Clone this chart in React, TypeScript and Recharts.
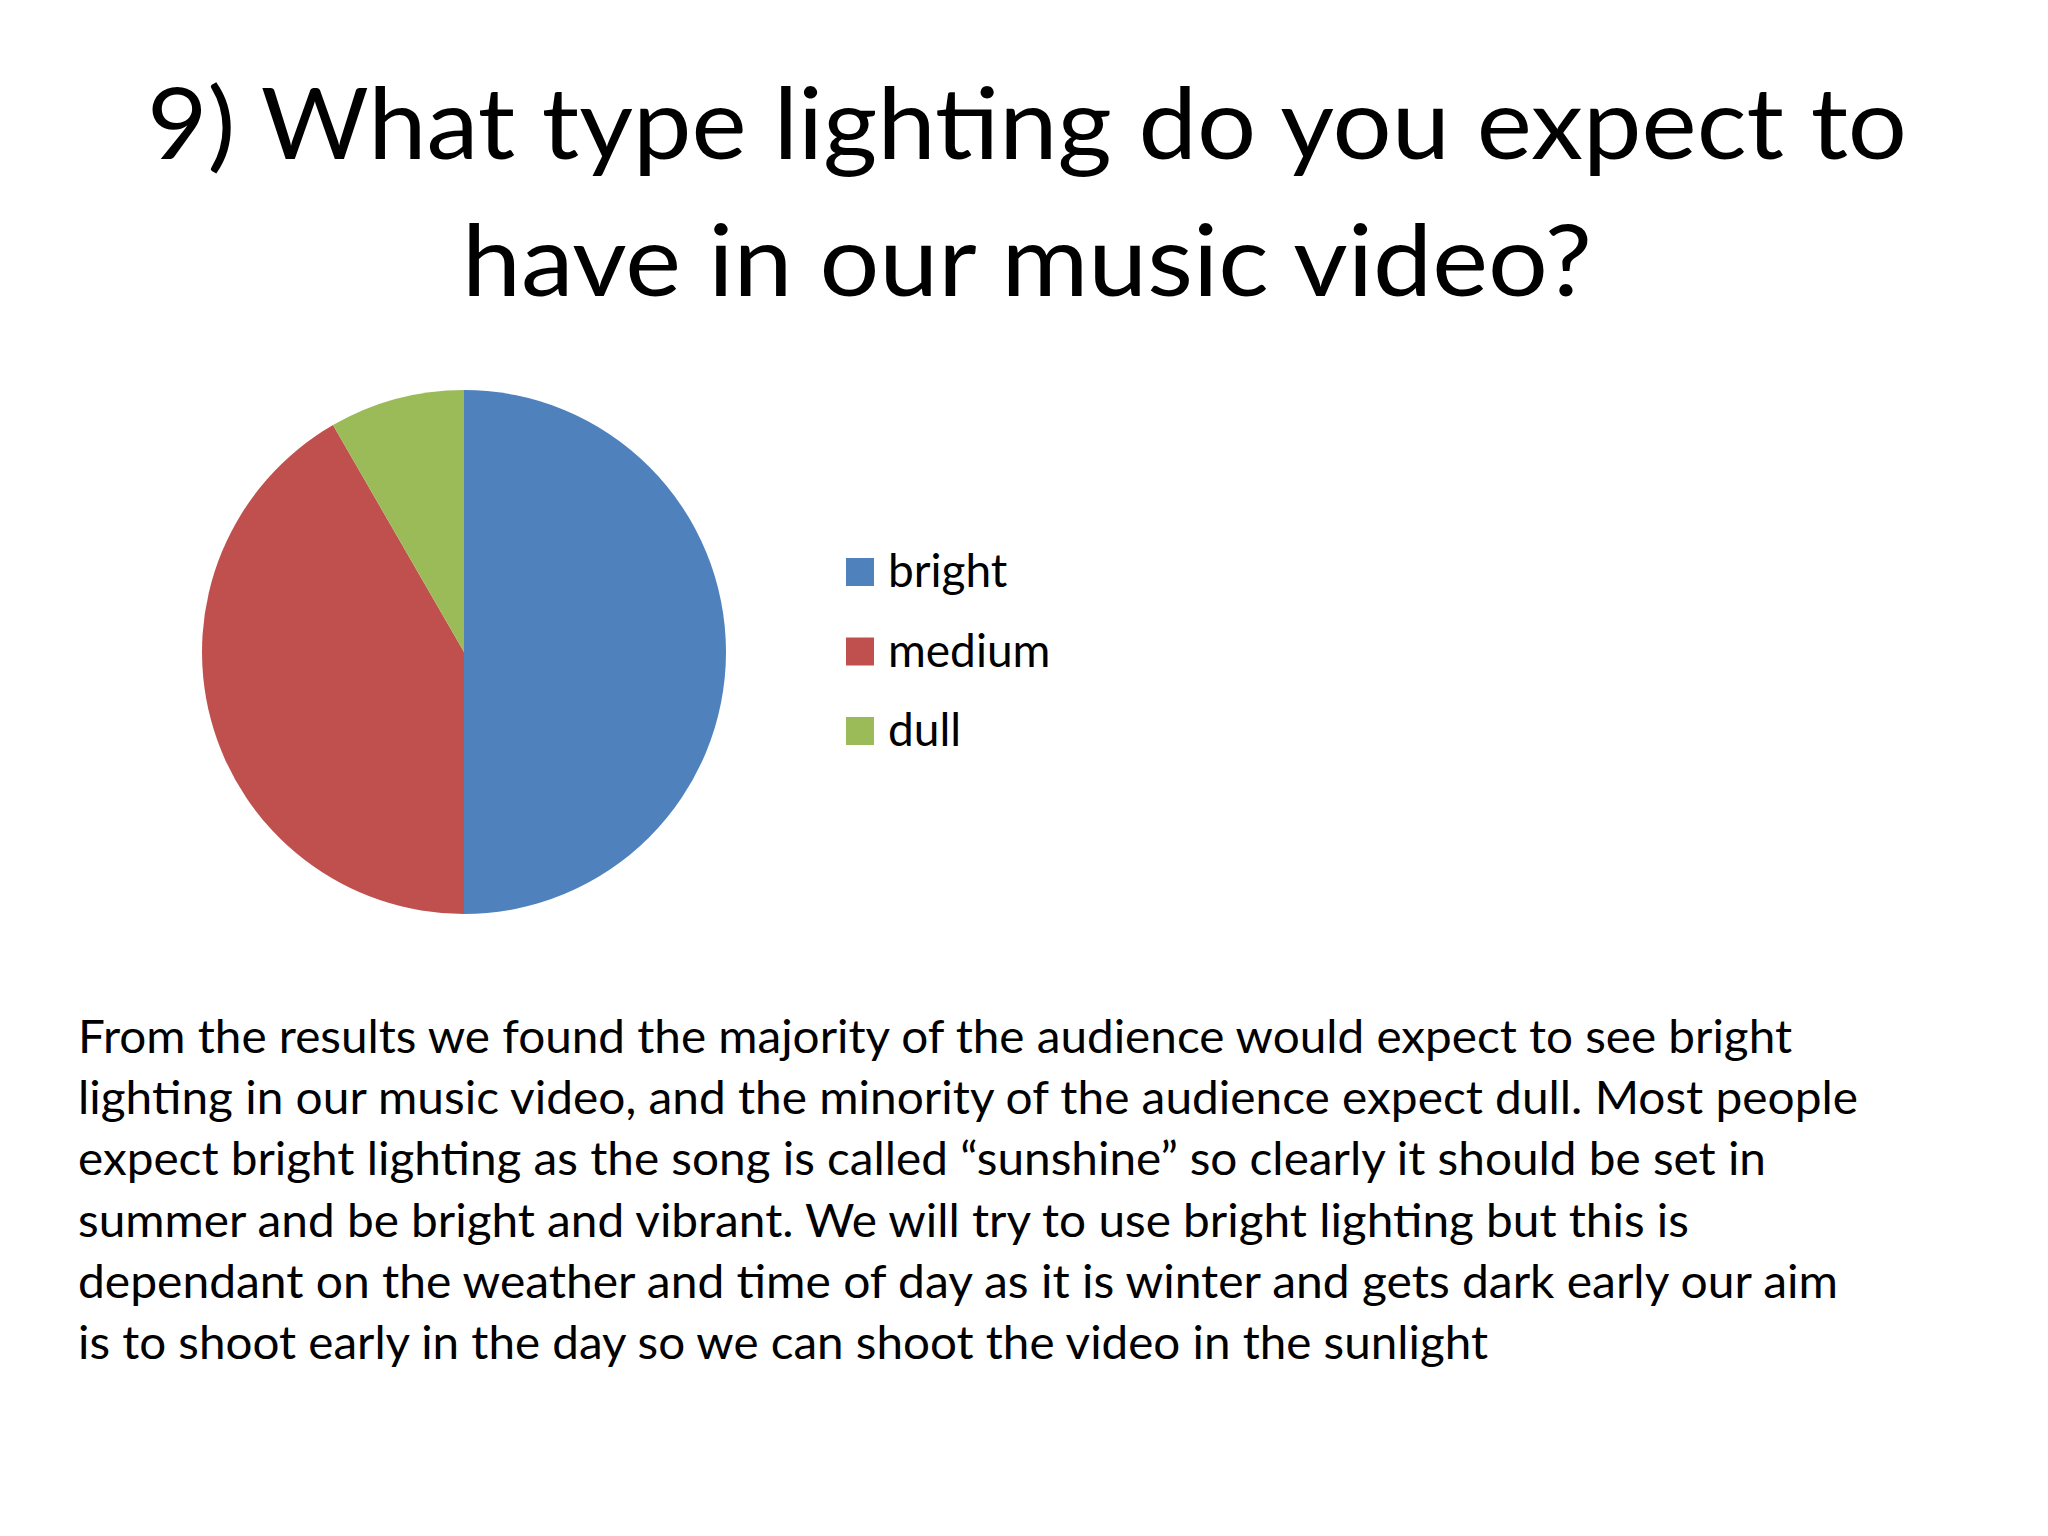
import React from 'react';
import { PieChart, Pie, Cell, Legend } from 'recharts';

// ---- data ----
const categories: string[] = ['bright', 'medium', 'dull'];
const responses: number[] = [6, 5, 1];

const titleLines: string[] = [
  '9) What type lighting do you expect to',
  'have in our music video?',
];

const bodyLines: string[] = [
  'From the results we found the majority of the audience would expect to see bright',
  'lighting in our music video, and the minority of the audience expect dull. Most people',
  'expect bright lighting as the song is called \u201Csunshine\u201D so clearly it should be set in',
  'summer and be bright and vibrant. We will try to use bright lighting but this is',
  'dependant on the weather and time of day as it is winter and gets dark early our aim',
  'is to shoot early in the day so we can shoot the video in the sunlight',
];

// ---- styles / layout ----
const SLICE_COLORS = ['#4F81BD', '#C0504D', '#9BBB59'];
const FONT = 'Lato, "Open Sans", sans-serif';

const titleLayout = [
  { x: 147, y: 159, w: 1760 },
  { x: 462, y: 296, w: 1130 },
];
const bodyLayout = { x: 78, y0: 1053, dy: 61.2, widths: [1714, 1780, 1688, 1611, 1760, 1410] };

const pieData = categories.map((name, i) => ({ name, value: responses[i] }));

const LegendContent = (props: any) => {
  const payload = [...(props.payload || [])].sort(
    (a: any, b: any) => categories.indexOf(a.value) - categories.indexOf(b.value)
  );
  return (
    <svg width={320} height={240} style={{ display: 'block' }}>
      {payload.map((entry: any, i: number) => (
        <g key={`lg-${i}`}>
          <rect x={0} y={18 + i * 79.5} width={28} height={28} fill={entry.color} />
          <text
            x={42}
            y={47 + i * 79.5}
            fontFamily={FONT}
            fontSize={46}
            fill="#000"
          >
            {entry.value}
          </text>
        </g>
      ))}
    </svg>
  );
};

export default function App() {
  return (
    <div
      style={{
        position: 'absolute',
        left: 0,
        top: 0,
        width: 2048,
        height: 1536,
        background: '#fff',
        overflow: 'hidden',
      }}
    >
      <PieChart width={2048} height={1536} margin={{ top: 0, right: 0, bottom: 0, left: 0 }}>
        <Pie
          data={pieData}
          dataKey="value"
          nameKey="name"
          cx={464}
          cy={652}
          outerRadius={262}
          innerRadius={0}
          startAngle={90}
          endAngle={-270}
          stroke="none"
          isAnimationActive={false}
          label={false}
          labelLine={false}
        >
          {pieData.map((d, i) => (
            <Cell key={`c-${d.name}`} fill={SLICE_COLORS[i]} stroke="none" />
          ))}
        </Pie>
        <Legend
          layout="vertical"
          itemSorter={null as any}
          content={<LegendContent />}
          wrapperStyle={{ position: 'absolute', left: 846, top: 540, width: 320, height: 240 }}
        />
      </PieChart>
      <svg
        width={2048}
        height={1536}
        style={{ position: 'absolute', left: 0, top: 0, pointerEvents: 'none' }}
      >
        {titleLines.map((t, i) => (
          <text
            key={`t-${i}`}
            x={titleLayout[i].x}
            y={titleLayout[i].y}
            textLength={titleLayout[i].w}
            lengthAdjust="spacingAndGlyphs"
            fontFamily={FONT}
            fontSize={98}
            fill="#000"
          >
            {t}
          </text>
        ))}
        {bodyLines.map((t, i) => (
          <text
            key={`b-${i}`}
            x={bodyLayout.x}
            y={bodyLayout.y0 + i * bodyLayout.dy}
            textLength={bodyLayout.widths[i]}
            lengthAdjust="spacingAndGlyphs"
            fontFamily={FONT}
            fontSize={46}
            fill="#000"
          >
            {t}
          </text>
        ))}
      </svg>
    </div>
  );
}
